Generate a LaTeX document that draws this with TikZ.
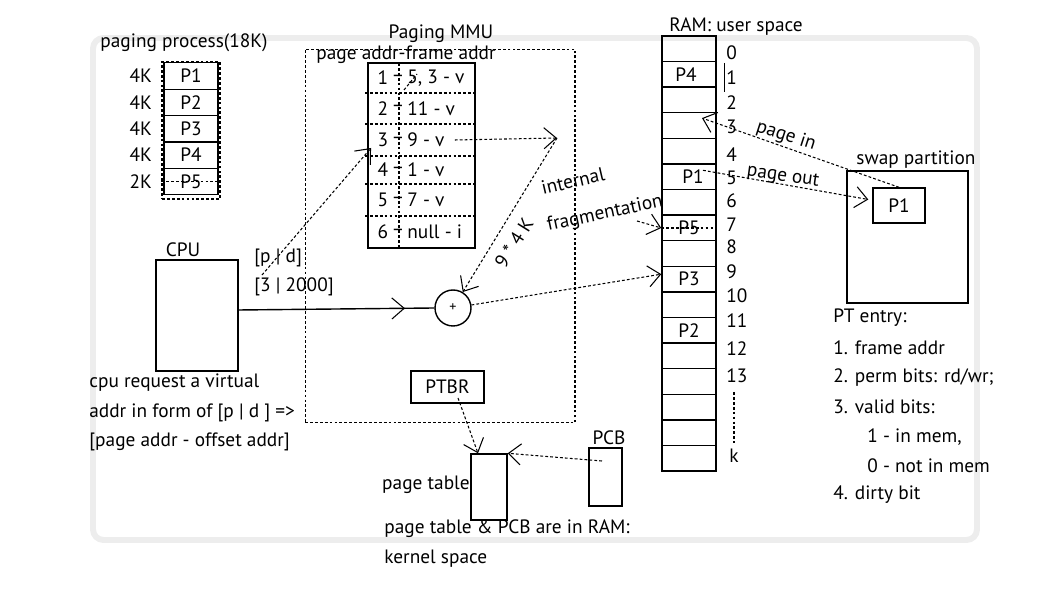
\documentclass[tikz,border=0pt]{standalone}
\usepackage{fontspec}
\setmainfont{PT Sans}
\usepackage{tikz}
\usetikzlibrary{arrows.meta,positioning,decorations.markings}

\begin{document}
\begin{tikzpicture}[x=0.02cm,y=-0.02cm,font=\fontsize{11}{13}\selectfont,
    box/.style={draw,line width=0.8pt,inner sep=0pt},
    dots/.style={dash pattern=on 1.6pt off 1.2pt,line width=0.6pt},
    barb/.style={dots,-{Straight Barb[length=7pt,width=12pt]}},
    txt/.style={anchor=west,inner sep=0pt}]
  \useasboundingbox (0,0) rectangle (1046,590);
  \draw[line width=3.4pt,color=black!7,rounded corners=6pt] (93,38) rectangle (977,540);

  % paging process
  \node (ptitle) at (184,43) {paging process(18K)};
  \node[box,dots,minimum width=1.16cm,minimum height=2.74cm] (proc) at (191,130.5) {};
  \foreach \i/\y/\k in {1/76/4K,2/102.5/4K,3/129/4K,4/155/4K,5/181.5/2K}{
    \node[box,minimum width=1.08cm,minimum height=0.53cm] (p\i) at (191,\y) {P\i};
    \node[left=0.22cm of p\i,inner sep=0pt] {\k};
  }
  \draw[dots] ([xshift=-0.04cm]p5.west) -- (p5.east);

  % MMU
  \node (mmutitle) at (441,34) {Paging MMU};
  \node[box,dots,minimum width=5.4cm,minimum height=7.48cm] (mmu) at (440,236) {};
  \node (tabhead) at (406,55) {page addr-frame addr};
  \node[box,minimum width=2.14cm,minimum height=3.7cm] (tab) at (421.5,155.5) {};
  \draw[dots] (399,63) -- (399,248);
  \foreach \y in {93,124,156,184,216}
    \draw[dots] (365,\y) -- (475,\y);
  \foreach \n/\y/\e in {1/78/{5, 3 - v},2/108.5/{11 - v},3/140/{9 - v},4/170/{1 - v},5/200/{7 - v},6/232/{null - i}}{
    \node at (383,\y) {\n};
    \node at (398,\y) {–};
    \node[txt] (e\n) at (407,\y) {\e};
  }
  \draw[dots] (404,90) -- (417,74);

  % cpu
  \node (cputitle) at (183,250) {CPU};
  \node[box,minimum width=1.64cm,minimum height=2.22cm] (cpu) at (197,315.5) {};
  \node[txt] (pd) at (254,258) {[p | d]};
  \node[txt] (pdval) at (254,287) {[3 | 2000]};
  \node[txt] at (89,383) {cpu request a virtual};
  \node[txt] at (89,413) {addr in form of [p | d ] =>};
  \node[txt] at (89,442) {[page addr - offset addr]};
  \node[circle,draw,line width=0.8pt,minimum size=0.72cm,inner sep=0pt,
        font=\fontsize{8}{8}\selectfont] (plus) at (453,308) {+};
  \coordinate (pdtail) at (262,275);
  \coordinate (r3in) at (371,148);
  \coordinate (hit) at (557,138);
  \draw[barb] (pdtail) -- (r3in);
  \draw[barb] ([xshift=0.2cm]e3.east) -- (hit);
  \draw[barb] (hit) -- (plus);
  \node[rotate=58,inner sep=1pt] at (514,243) {9 * 4 K};
  \draw[line width=0.8pt,postaction={decorate},
        decoration={markings,mark=at position 0.85 with
          {\arrow[dots]{Straight Barb[length=7pt,width=12pt]}}}]
        ([yshift=0.11cm]cpu.east) -- (plus.west);

  % ptbr, page table, pcb
  \node[box,minimum width=1.46cm,minimum height=0.64cm] (ptbr) at (447.5,387) {PTBR};
  \node[box,minimum width=0.72cm,minimum height=1.32cm] (ptab) at (489,487) {};
  \node[box,minimum width=0.66cm,minimum height=1.16cm] (pcb) at (605.5,477) {};
  \node (pcbtitle) at (609,438) {PCB};
  \node[anchor=east,inner sep=0pt] at (470,485) {page table};
  \node[txt] at (384,529) {page table \& PCB are in RAM:};
  \node[txt] at (384,559) {kernel space};
  \draw[barb] ([xshift=0.21cm,yshift=-0.22cm]ptbr.center) -- ([xshift=-0.22cm]ptab.north);
  \draw[barb] ([xshift=-0.07cm,yshift=0.32cm]pcb.center) -- (ptab.north east);

  % RAM
  \node (ramtitle) at (736,27) {RAM: user space};
  \foreach \i in {0,...,16}
    \node[box,minimum width=1.08cm,minimum height=0.512cm] (r\i) at (689,{48.8+25.6*\i}) {};
  \foreach \i/\p/\dx in {1/P4/-3,5/P1/4,7/P5/0,9/P3/0,11/P2/0}
    \node at ({689+\dx},{48.8+25.6*\i}) {\p};
  \foreach \n/\y in {0/53,1/78,2/103,3/127,4/155,5/178,6/201,7/225,8/247,9/272,10/296,11/321,12/349,13/376}
    \node[txt] at (726,\y) {\n};
  \node[txt] at (729,456) {k};
  \draw[line width=0.5pt] (724,63) -- (724,92);
  \draw[dots] (734,392) -- (734,443);

  \node[rotate=13,inner sep=1pt] (intl) at (573,181) {internal};
  \node[rotate=12,inner sep=1pt] (frag) at (605,214) {fragmentation};
  \coordinate (fragtail) at (637,221);
  \draw[barb] (fragtail) -- (r7.west);
  \draw[dots] (r7.west) -- (r7.east);
  \draw[barb] (plus) -- ([yshift=0.1cm]r9.west);

  % swap
  \node (swaptitle) at (916,160) {swap partition};
  \node[box,minimum width=2.42cm,minimum height=2.64cm] (swap) at (907.5,237) {};
  \node[box,minimum width=1.04cm,minimum height=0.7cm] (sp1) at (899,205.5) {P1};
  \draw[barb] (sp1.north) -- ([xshift=0.26cm,yshift=0.15cm]r3.center);
  \node[rotate=-18] at (786,136) {page in};
  \draw[barb] ([xshift=0.28cm,yshift=0.13cm]r5.center) -- ([xshift=-0.08cm,yshift=0.12cm]sp1.west);
  \node[rotate=-8] at (783,177) {page out};

  % PT entry
  \node[txt] at (833,318) {PT entry:};
  \node[txt] at (833,348) {1. frame addr};
  \node[txt] at (833,378) {2. perm bits: rd/wr;};
  \node[txt] at (833,407) {3. valid bits:};
  \node[txt] at (867,437) {1 - in mem,};
  \node[txt] at (867,466) {0 - not in mem};
  \node[txt] at (833,495) {4. dirty bit};
\end{tikzpicture}
\end{document}
